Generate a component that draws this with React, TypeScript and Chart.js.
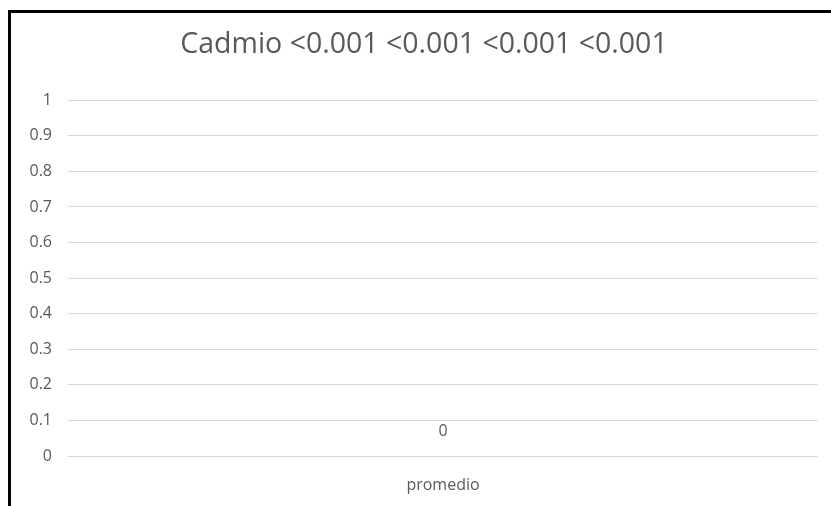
import React, { useEffect, useRef } from "react";
import { Chart, registerables } from "chart.js";

Chart.register(...registerables);

// Chart data
const categories: string[] = ["promedio"];
const promedioValues: number[] = [0];
const chartTitle = "Cadmio <0.001 <0.001 <0.001 <0.001";
const yMin = 0;
const yMax = 1;
const yStep = 0.1;

const textColor = "#595959";
const gridColor = "#d9d9d9";
const fontFamily = "'Open Sans', 'Liberation Sans', sans-serif";

// Writes each bar's value just above the bar top
const valueLabels = {
  id: "valueLabels",
  afterDatasetsDraw(chart: any) {
    const ctx = chart.ctx;
    ctx.save();
    ctx.font = `16px ${fontFamily}`;
    ctx.fillStyle = textColor;
    ctx.textAlign = "center";
    ctx.textBaseline = "middle";
    chart.data.datasets.forEach((ds: any, i: number) => {
      const meta = chart.getDatasetMeta(i);
      meta.data.forEach((bar: any, j: number) => {
        ctx.fillText(String(ds.data[j]), bar.x, bar.y - 25);
      });
    });
    ctx.restore();
  },
};

export default function App() {
  const canvasRef = useRef<HTMLCanvasElement | null>(null);

  useEffect(() => {
    if (!canvasRef.current) return;
    const chart = new Chart(canvasRef.current, {
      type: "bar",
      data: {
        labels: categories,
        datasets: [
          {
            label: "promedio",
            data: promedioValues,
            backgroundColor: "#4472c4",
            barPercentage: 0.6,
          },
        ],
      },
      plugins: [valueLabels],
      options: {
        responsive: false,
        animation: false,
        layout: { padding: { left: 30, right: 13, top: 0, bottom: 0 } },
        plugins: {
          legend: { display: false },
          tooltip: { enabled: false },
          title: {
            display: true,
            text: chartTitle,
            color: textColor,
            font: { family: fontFamily, size: 28.5, weight: "normal", lineHeight: 1.2 },
            padding: { top: 28, bottom: 38 },
          },
        },
        scales: {
          x: {
            grid: { display: false, drawTicks: false },
            border: { display: false },
            ticks: {
              color: textColor,
              font: { family: fontFamily, size: 16 },
              padding: 20,
            },
            afterFit: (scale: any) => {
              scale.height = 50;
            },
          },
          y: {
            min: yMin,
            max: yMax,
            grid: { color: gridColor, drawTicks: false },
            border: { display: false },
            ticks: {
              stepSize: yStep,
              color: textColor,
              font: { family: fontFamily, size: 16 },
              padding: 16,
              callback: (v: any) => String(Math.round(Number(v) * 10) / 10),
            },
            afterFit: (scale: any) => {
              scale.width = 38;
            },
          },
        },
      },
    });
    return () => chart.destroy();
  }, []);

  return (
    <div
      style={{
        position: "absolute",
        left: 0,
        top: 0,
        width: 831,
        height: 506,
        background: "#ffffff",
        overflow: "hidden",
      }}
    >
      <canvas
        ref={canvasRef}
        width={831}
        height={506}
        style={{ position: "absolute", left: 0, top: 0 }}
      />
      <div
        style={{
          position: "absolute",
          left: 8,
          top: 10,
          right: 0,
          bottom: 0,
          borderTop: "3px solid #000",
          borderLeft: "3px solid #000",
          pointerEvents: "none",
        }}
      />
    </div>
  );
}
